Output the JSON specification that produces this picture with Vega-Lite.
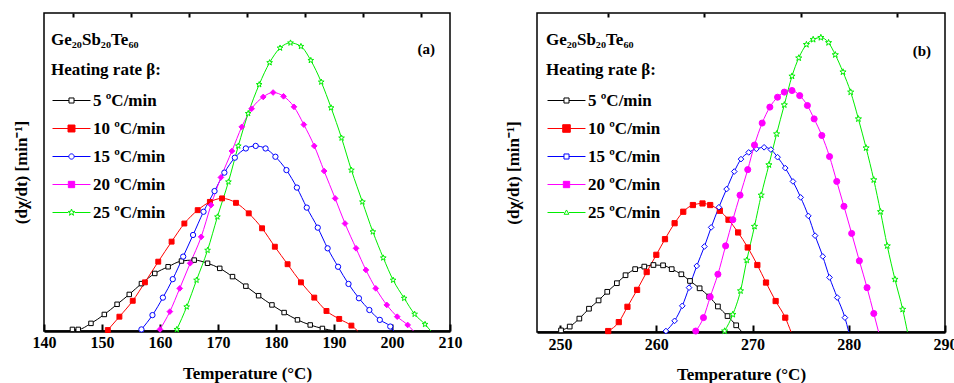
{
  "$schema": "https://vega.github.io/schema/vega-lite/v6.json",
  "padding": {"left": 11, "top": 11, "right": 0, "bottom": 0},
  "autosize": {"type": "pad"},
  "spacing": 40,
  "config": {
    "view": {"stroke": "black", "strokeWidth": 1.5},
    "font": "Liberation Serif",
    "axis": {"labelFont": "Liberation Serif", "labelFontSize": 16, "labelFontWeight": "bold", "labelColor": "black", "labelFlush": false, "titleFont": "Liberation Serif", "titleFontSize": 17, "titleFontWeight": "bold", "titleColor": "black", "domainColor": "black", "tickColor": "black", "grid": false},
    "legend": {"symbolFillColor": "white", "labelFont": "Liberation Serif", "labelFontSize": 17, "labelFontWeight": "bold", "labelColor": "black", "titleFont": "Liberation Serif", "titleFontSize": 17, "titleFontWeight": "bold", "titleColor": "black", "padding": 0},
    "title": {"font": "Liberation Serif", "fontSize": 15, "fontWeight": "bold", "color": "black"}
  },
  "datasets": {
    "a": [
      {"rate":"5","T":144.9,"v":0.005},{"rate":"5","T":145.9,"v":0.005},{"rate":"5","T":148.1,"v":0.024},{"rate":"5","T":150.4,"v":0.052},{"rate":"5","T":152.6,"v":0.084},{"rate":"5","T":154.7,"v":0.115},{"rate":"5","T":156.8,"v":0.149},{"rate":"5","T":159.1,"v":0.181},{"rate":"5","T":161.4,"v":0.202},{"rate":"5","T":163.7,"v":0.220},{"rate":"5","T":165.9,"v":0.223},{"rate":"5","T":168.2,"v":0.213},{"rate":"5","T":170.3,"v":0.197},{"rate":"5","T":172.5,"v":0.171},{"rate":"5","T":174.8,"v":0.141},{"rate":"5","T":177.0,"v":0.111},{"rate":"5","T":179.3,"v":0.082},{"rate":"5","T":181.4,"v":0.058},{"rate":"5","T":183.7,"v":0.035},{"rate":"5","T":185.9,"v":0.019},{"rate":"5","T":188.0,"v":0.008},{"rate":"5","T":190.2,"v":0.0,"end":1},
      {"rate":"10","T":151.0,"v":0.003},{"rate":"10","T":153.0,"v":0.045},{"rate":"10","T":155.3,"v":0.095},{"rate":"10","T":157.4,"v":0.153},{"rate":"10","T":159.7,"v":0.218},{"rate":"10","T":162.0,"v":0.281},{"rate":"10","T":164.2,"v":0.338},{"rate":"10","T":166.5,"v":0.380},{"rate":"10","T":168.6,"v":0.406},{"rate":"10","T":170.7,"v":0.417},{"rate":"10","T":173.1,"v":0.403},{"rate":"10","T":175.3,"v":0.370},{"rate":"10","T":177.6,"v":0.323},{"rate":"10","T":179.8,"v":0.265},{"rate":"10","T":182.0,"v":0.210},{"rate":"10","T":184.3,"v":0.153},{"rate":"10","T":186.6,"v":0.105},{"rate":"10","T":188.7,"v":0.063},{"rate":"10","T":190.9,"v":0.038},{"rate":"10","T":193.0,"v":0.017},{"rate":"10","T":194.1,"v":0.0,"end":1},
      {"rate":"15","T":156.8,"v":0.005},{"rate":"15","T":158.7,"v":0.050},{"rate":"15","T":160.5,"v":0.105},{"rate":"15","T":162.2,"v":0.163},{"rate":"15","T":164.0,"v":0.234},{"rate":"15","T":165.7,"v":0.302},{"rate":"15","T":167.5,"v":0.375},{"rate":"15","T":169.4,"v":0.440},{"rate":"15","T":171.1,"v":0.498},{"rate":"15","T":172.9,"v":0.545},{"rate":"15","T":174.8,"v":0.574},{"rate":"15","T":176.5,"v":0.582},{"rate":"15","T":178.2,"v":0.574},{"rate":"15","T":179.9,"v":0.548},{"rate":"15","T":181.8,"v":0.506},{"rate":"15","T":183.6,"v":0.451},{"rate":"15","T":185.3,"v":0.388},{"rate":"15","T":187.2,"v":0.325},{"rate":"15","T":188.9,"v":0.260},{"rate":"15","T":190.7,"v":0.202},{"rate":"15","T":192.5,"v":0.148},{"rate":"15","T":194.3,"v":0.103},{"rate":"15","T":196.1,"v":0.066},{"rate":"15","T":197.9,"v":0.035},{"rate":"15","T":199.7,"v":0.014},{"rate":"15","T":200.3,"v":0.0,"end":1},
      {"rate":"20","T":160.0,"v":0.005},{"rate":"20","T":161.7,"v":0.061},{"rate":"20","T":163.4,"v":0.134},{"rate":"20","T":165.2,"v":0.213},{"rate":"20","T":167.1,"v":0.296},{"rate":"20","T":168.8,"v":0.396},{"rate":"20","T":170.5,"v":0.483},{"rate":"20","T":172.4,"v":0.566},{"rate":"20","T":174.1,"v":0.642},{"rate":"20","T":175.8,"v":0.699},{"rate":"20","T":177.8,"v":0.736},{"rate":"20","T":179.5,"v":0.750},{"rate":"20","T":181.3,"v":0.738},{"rate":"20","T":183.1,"v":0.705},{"rate":"20","T":184.8,"v":0.649},{"rate":"20","T":186.6,"v":0.582},{"rate":"20","T":188.3,"v":0.503},{"rate":"20","T":190.2,"v":0.417},{"rate":"20","T":191.9,"v":0.338},{"rate":"20","T":193.8,"v":0.260},{"rate":"20","T":195.5,"v":0.192},{"rate":"20","T":197.2,"v":0.134},{"rate":"20","T":199.1,"v":0.082},{"rate":"20","T":200.9,"v":0.045},{"rate":"20","T":202.7,"v":0.019},{"rate":"20","T":203.7,"v":0.0,"end":1},
      {"rate":"25","T":162.9,"v":0.005},{"rate":"25","T":164.6,"v":0.076},{"rate":"25","T":166.3,"v":0.160},{"rate":"25","T":168.2,"v":0.254},{"rate":"25","T":169.9,"v":0.359},{"rate":"25","T":171.8,"v":0.469},{"rate":"25","T":173.5,"v":0.582},{"rate":"25","T":175.2,"v":0.684},{"rate":"25","T":177.1,"v":0.775},{"rate":"25","T":178.9,"v":0.844},{"rate":"25","T":180.7,"v":0.890},{"rate":"25","T":182.5,"v":0.906},{"rate":"25","T":184.3,"v":0.895},{"rate":"25","T":186.0,"v":0.851},{"rate":"25","T":187.8,"v":0.783},{"rate":"25","T":189.5,"v":0.702},{"rate":"25","T":191.3,"v":0.607},{"rate":"25","T":193.0,"v":0.506},{"rate":"25","T":194.9,"v":0.406},{"rate":"25","T":196.7,"v":0.312},{"rate":"25","T":198.5,"v":0.230},{"rate":"25","T":200.2,"v":0.160},{"rate":"25","T":202.1,"v":0.103},{"rate":"25","T":203.9,"v":0.053},{"rate":"25","T":205.7,"v":0.021},{"rate":"25","T":206.7,"v":0.0,"end":1}
    ],
    "b": [
      {"rate":"5","T":250.1,"v":0.005},{"rate":"5","T":251.0,"v":0.017},{"rate":"5","T":252.0,"v":0.042},{"rate":"5","T":253.0,"v":0.073},{"rate":"5","T":254.0,"v":0.099},{"rate":"5","T":254.9,"v":0.126},{"rate":"5","T":255.9,"v":0.153},{"rate":"5","T":256.8,"v":0.178},{"rate":"5","T":257.8,"v":0.197},{"rate":"5","T":258.75,"v":0.205},{"rate":"5","T":259.7,"v":0.210},{"rate":"5","T":260.7,"v":0.209},{"rate":"5","T":261.6,"v":0.197},{"rate":"5","T":262.6,"v":0.181},{"rate":"5","T":263.5,"v":0.160},{"rate":"5","T":264.5,"v":0.137},{"rate":"5","T":265.5,"v":0.111},{"rate":"5","T":266.4,"v":0.080},{"rate":"5","T":267.4,"v":0.050},{"rate":"5","T":268.3,"v":0.021},{"rate":"5","T":268.9,"v":0.0,"end":1},
      {"rate":"10","T":255.0,"v":0.003},{"rate":"10","T":256.1,"v":0.031},{"rate":"10","T":257.0,"v":0.079},{"rate":"10","T":258.0,"v":0.132},{"rate":"10","T":259.0,"v":0.188},{"rate":"10","T":260.0,"v":0.242},{"rate":"10","T":260.9,"v":0.291},{"rate":"10","T":261.9,"v":0.341},{"rate":"10","T":262.8,"v":0.377},{"rate":"10","T":263.8,"v":0.398},{"rate":"10","T":264.8,"v":0.403},{"rate":"10","T":265.6,"v":0.398},{"rate":"10","T":266.6,"v":0.380},{"rate":"10","T":267.5,"v":0.352},{"rate":"10","T":268.5,"v":0.312},{"rate":"10","T":269.5,"v":0.265},{"rate":"10","T":270.5,"v":0.210},{"rate":"10","T":271.4,"v":0.155},{"rate":"10","T":272.4,"v":0.097},{"rate":"10","T":273.4,"v":0.045},{"rate":"10","T":274.0,"v":0.0,"end":1},
      {"rate":"15","T":261.0,"v":0.003},{"rate":"15","T":261.9,"v":0.035},{"rate":"15","T":262.7,"v":0.082},{"rate":"15","T":263.4,"v":0.139},{"rate":"15","T":264.2,"v":0.207},{"rate":"15","T":265.0,"v":0.268},{"rate":"15","T":265.7,"v":0.328},{"rate":"15","T":266.5,"v":0.391},{"rate":"15","T":267.3,"v":0.448},{"rate":"15","T":268.1,"v":0.503},{"rate":"15","T":268.8,"v":0.542},{"rate":"15","T":269.6,"v":0.563},{"rate":"15","T":270.4,"v":0.574},{"rate":"15","T":271.2,"v":0.579},{"rate":"15","T":271.9,"v":0.572},{"rate":"15","T":272.6,"v":0.548},{"rate":"15","T":273.4,"v":0.514},{"rate":"15","T":274.2,"v":0.472},{"rate":"15","T":275.0,"v":0.422},{"rate":"15","T":275.8,"v":0.364},{"rate":"15","T":276.5,"v":0.302},{"rate":"15","T":277.3,"v":0.237},{"rate":"15","T":278.0,"v":0.171},{"rate":"15","T":278.8,"v":0.108},{"rate":"15","T":279.6,"v":0.045},{"rate":"15","T":280.0,"v":0.0,"end":1},
      {"rate":"20","T":264.1,"v":0.003},{"rate":"20","T":264.9,"v":0.045},{"rate":"20","T":265.6,"v":0.110},{"rate":"20","T":266.4,"v":0.181},{"rate":"20","T":267.2,"v":0.270},{"rate":"20","T":267.95,"v":0.352},{"rate":"20","T":268.7,"v":0.429},{"rate":"20","T":269.5,"v":0.509},{"rate":"20","T":270.2,"v":0.586},{"rate":"20","T":271.0,"v":0.655},{"rate":"20","T":271.8,"v":0.705},{"rate":"20","T":272.6,"v":0.736},{"rate":"20","T":273.3,"v":0.752},{"rate":"20","T":274.1,"v":0.757},{"rate":"20","T":274.9,"v":0.741},{"rate":"20","T":275.7,"v":0.710},{"rate":"20","T":276.4,"v":0.668},{"rate":"20","T":277.2,"v":0.616},{"rate":"20","T":278.0,"v":0.550},{"rate":"20","T":278.75,"v":0.472},{"rate":"20","T":279.5,"v":0.394},{"rate":"20","T":280.3,"v":0.309},{"rate":"20","T":281.1,"v":0.223},{"rate":"20","T":281.9,"v":0.139},{"rate":"20","T":282.6,"v":0.058},{"rate":"20","T":283.1,"v":0.0,"end":1},
      {"rate":"25","T":267.1,"v":0.003},{"rate":"25","T":267.95,"v":0.055},{"rate":"25","T":268.75,"v":0.129},{"rate":"25","T":269.4,"v":0.225},{"rate":"25","T":270.2,"v":0.331},{"rate":"25","T":270.9,"v":0.429},{"rate":"25","T":271.7,"v":0.524},{"rate":"25","T":272.5,"v":0.621},{"rate":"25","T":273.3,"v":0.712},{"rate":"25","T":274.1,"v":0.802},{"rate":"25","T":274.8,"v":0.859},{"rate":"25","T":275.6,"v":0.901},{"rate":"25","T":276.3,"v":0.917},{"rate":"25","T":277.1,"v":0.923},{"rate":"25","T":277.9,"v":0.907},{"rate":"25","T":278.6,"v":0.869},{"rate":"25","T":279.4,"v":0.815},{"rate":"25","T":280.2,"v":0.752},{"rate":"25","T":281.0,"v":0.668},{"rate":"25","T":281.8,"v":0.577},{"rate":"25","T":282.6,"v":0.477},{"rate":"25","T":283.3,"v":0.377},{"rate":"25","T":284.0,"v":0.270},{"rate":"25","T":284.8,"v":0.165},{"rate":"25","T":285.6,"v":0.071},{"rate":"25","T":286.1,"v":0.0,"end":1}
    ]
  },
  "resolve": {"scale": {"color": "independent", "stroke": "independent", "fill": "independent", "shape": "independent", "size": "independent"}, "legend": {"color": "independent", "stroke": "independent", "fill": "independent", "shape": "independent", "size": "independent"}},
  "hconcat": [
    {
      "width": 406, "height": 318,
      "data": {"name": "a"},
      "title": {"text": "(a)", "anchor": "end", "frame": "group", "offset": -45, "dx": -15},
      "resolve": {"axis": {"x": "independent"}, "scale": {"stroke": "independent", "fill": "independent", "shape": "independent"}, "legend": {"stroke": "independent", "fill": "independent", "shape": "independent"}},
      "layer": [
        {
          "mark": {"type": "line", "strokeWidth": 1, "interpolate": "monotone"},
          "encoding": {
            "x": {"field": "T", "type": "quantitative", "scale": {"domain": [140, 210], "nice": false, "zero": false}, "axis": {"title": "Temperature (°C)", "values": [140, 150, 160, 170, 180, 190, 200, 210], "tickSize": -7, "tickWidth": 2, "domainWidth": 2.5, "labelPadding": 10, "titlePadding": 15}},
            "y": {"field": "v", "type": "quantitative", "scale": {"domain": [0, 1], "nice": false}, "axis": {"title": "(dχ/dt) [min⁻¹]", "labels": false, "ticks": false, "domain": false, "titlePadding": 14}},
            "color": {"field": "rate", "type": "nominal", "scale": {"domain": ["5", "10", "15", "20", "25"], "range": ["#000000", "#ff0000", "#0000ff", "#ff00ff", "#00ee00"]}, "legend": null}
          }
        },
        {
          "transform": [{"filter": "datum.end !== 1"}],
          "mark": {"type": "point", "opacity": 1, "strokeWidth": 1},
          "encoding": {
            "x": {"field": "T", "type": "quantitative", "axis": {"title": null, "values": [145, 155, 165, 175, 185, 195, 205], "tickSize": -4, "tickWidth": 2, "labels": false, "domain": false}},
            "y": {"field": "v", "type": "quantitative", "axis": {"title": "(dχ/dt) [min⁻¹]", "labels": false, "ticks": false, "domain": false, "titlePadding": 14}},
            "stroke": {"field": "rate", "type": "nominal", "scale": {"domain": ["5", "10", "15", "20", "25"], "range": ["#000000", "#ff0000", "#0000ff", "#ff00ff", "#00ee00"]}, "legend": null},
            "fill": {"field": "rate", "type": "nominal", "scale": {"domain": ["5", "10", "15", "20", "25"], "range": ["#ffffff", "#ff0000", "#ffffff", "#ff00ff", "#ffffff"]}, "legend": null},
            "shape": {"field": "rate", "type": "nominal", "scale": {"domain": ["5", "10", "15", "20", "25"], "range": ["square", "square", "circle", "diamond", "M0,-1L0.24,-0.33L0.95,-0.31L0.38,0.12L0.59,0.81L0,0.4L-0.59,0.81L-0.38,0.12L-0.95,-0.31L-0.24,-0.33Z"]}, "legend": null},
            "size": {"field": "rate", "type": "ordinal", "scale": {"domain": ["5", "10", "15", "20", "25"], "range": [20, 36, 16, 45, 40]}, "legend": null}
          }
        },
        {
          "transform": [{"filter": "false"}],
          "mark": {"type": "point", "opacity": 1, "strokeWidth": 1},
          "encoding": {
            "shape": {"field": "rate", "type": "nominal", "scale": {"domain": ["5", "10", "15", "20", "25"], "range": [
              "M-3,0H-0.4M0.4,0H3M-0.4,-0.4H0.4V0.4H-0.4Z",
              "M-3,0H-0.55M0.55,0H3M-0.55,-0.55H0.55V0.55H-0.55Z",
              "M-3,0H-0.42M0.42,0H3M-0.42,0A0.42,0.42 0 1,0 0.42,0A0.42,0.42 0 1,0 -0.42,0Z",
              "M-3,0H-0.5M0.5,0H3M-0.5,-0.5H0.5V0.5H-0.5Z",
              "M-3,0H-0.5M0.5,0H3M0,-0.55L0.129,-0.178L0.523,-0.17L0.209,0.068L0.323,0.445L0,0.22L-0.323,0.445L-0.209,0.068L-0.523,-0.17L-0.129,-0.178Z"
            ]}, "legend": {"title": ["Ge₂₀Sb₂₀Te₆₀", "Heating rate β:"], "orient": "none", "legendX": 7, "legendY": 19, "symbolSize": 160, "symbolStrokeWidth": 1, "symbolOffset": 12, "labelOffset": 13, "rowPadding": 10, "titlePadding": 13, "titleLineHeight": 30, "labelExpr": "datum.label == '5' ? '5   ºC/min' : datum.label + ' ºC/min'"}},
            "stroke": {"field": "rate", "type": "nominal", "scale": {"domain": ["5", "10", "15", "20", "25"], "range": ["#000000", "#ff0000", "#0000ff", "#ff00ff", "#00ee00"]}},
            "fill": {"field": "rate", "type": "nominal", "scale": {"domain": ["5", "10", "15", "20", "25"], "range": ["#ffffff", "#ff0000", "#ffffff", "#ff00ff", "#ffffff"]}}
          }
        }
      ]
    },
    {
      "width": 408, "height": 319,
      "data": {"name": "b"},
      "title": {"text": "(b)", "anchor": "end", "frame": "group", "offset": -47, "dx": -14},
      "resolve": {"axis": {"x": "independent"}, "scale": {"stroke": "independent", "fill": "independent", "shape": "independent"}, "legend": {"stroke": "independent", "fill": "independent", "shape": "independent"}},
      "layer": [
        {
          "mark": {"type": "line", "strokeWidth": 1, "interpolate": "monotone"},
          "encoding": {
            "x": {"field": "T", "type": "quantitative", "scale": {"domain": [247.6, 290], "nice": false, "zero": false}, "axis": {"title": "Temperature (°C)", "values": [250, 260, 270, 280, 290], "tickSize": -7, "tickWidth": 2, "domainWidth": 2.5, "labelPadding": 11, "titlePadding": 14}},
            "y": {"field": "v", "type": "quantitative", "scale": {"domain": [0, 1], "nice": false}, "axis": {"title": "(dχ/dt) [min⁻¹]", "labels": false, "ticks": false, "domain": false, "titlePadding": 15}},
            "color": {"field": "rate", "type": "nominal", "scale": {"domain": ["5", "10", "15", "20", "25"], "range": ["#000000", "#ff0000", "#0000ff", "#ff00ff", "#00ee00"]}, "legend": null}
          }
        },
        {
          "transform": [{"filter": "datum.end !== 1"}],
          "mark": {"type": "point", "opacity": 1, "strokeWidth": 1},
          "encoding": {
            "x": {"field": "T", "type": "quantitative", "axis": {"title": null, "values": [255, 265, 275, 285], "tickSize": -4, "tickWidth": 2, "labels": false, "domain": false}},
            "y": {"field": "v", "type": "quantitative", "axis": {"title": "(dχ/dt) [min⁻¹]", "labels": false, "ticks": false, "domain": false, "titlePadding": 15}},
            "stroke": {"field": "rate", "type": "nominal", "scale": {"domain": ["5", "10", "15", "20", "25"], "range": ["#000000", "#ff0000", "#0000ff", "#ff00ff", "#00ee00"]}, "legend": null},
            "fill": {"field": "rate", "type": "nominal", "scale": {"domain": ["5", "10", "15", "20", "25"], "range": ["#ffffff", "#ff0000", "#ffffff", "#ff00ff", "#ffffff"]}, "legend": null},
            "shape": {"field": "rate", "type": "nominal", "scale": {"domain": ["5", "10", "15", "20", "25"], "range": ["square", "square", "diamond", "circle", "M0,-1L0.24,-0.33L0.95,-0.31L0.38,0.12L0.59,0.81L0,0.4L-0.59,0.81L-0.38,0.12L-0.95,-0.31L-0.24,-0.33Z"]}, "legend": null},
            "size": {"field": "rate", "type": "ordinal", "scale": {"domain": ["5", "10", "15", "20", "25"], "range": [22, 42, 30, 32, 40]}, "legend": null}
          }
        },
        {
          "transform": [{"filter": "false"}],
          "mark": {"type": "point", "opacity": 1, "strokeWidth": 1},
          "encoding": {
            "shape": {"field": "rate", "type": "nominal", "scale": {"domain": ["5", "10", "15", "20", "25"], "range": [
              "M-3,0H-0.4M0.4,0H3M-0.4,-0.4H0.4V0.4H-0.4Z",
              "M-3,0H-0.6M0.6,0H3M-0.6,-0.6H0.6V0.6H-0.6Z",
              "M-3,0H-0.4M0.4,0H3M-0.4,-0.4H0.4V0.4H-0.4Z",
              "M-3,0H-0.5M0.5,0H3M-0.5,-0.5H0.5V0.5H-0.5Z",
              "M-3,0H-0.38M0.38,0H3M0,-0.4L0.38,0.28H-0.38Z"
            ]}, "legend": {"title": ["Ge₂₀Sb₂₀Te₆₀", "Heating rate β:"], "orient": "none", "legendX": 9, "legendY": 19, "symbolSize": 160, "symbolStrokeWidth": 1, "symbolOffset": 12, "labelOffset": 13, "rowPadding": 10, "titlePadding": 13, "titleLineHeight": 30, "labelExpr": "datum.label == '5' ? '5   ºC/min' : datum.label + ' ºC/min'"}},
            "stroke": {"field": "rate", "type": "nominal", "scale": {"domain": ["5", "10", "15", "20", "25"], "range": ["#000000", "#ff0000", "#0000ff", "#ff00ff", "#00ee00"]}},
            "fill": {"field": "rate", "type": "nominal", "scale": {"domain": ["5", "10", "15", "20", "25"], "range": ["#ffffff", "#ff0000", "#ffffff", "#ff00ff", "#ffffff"]}}
          }
        }
      ]
    }
  ]
}
